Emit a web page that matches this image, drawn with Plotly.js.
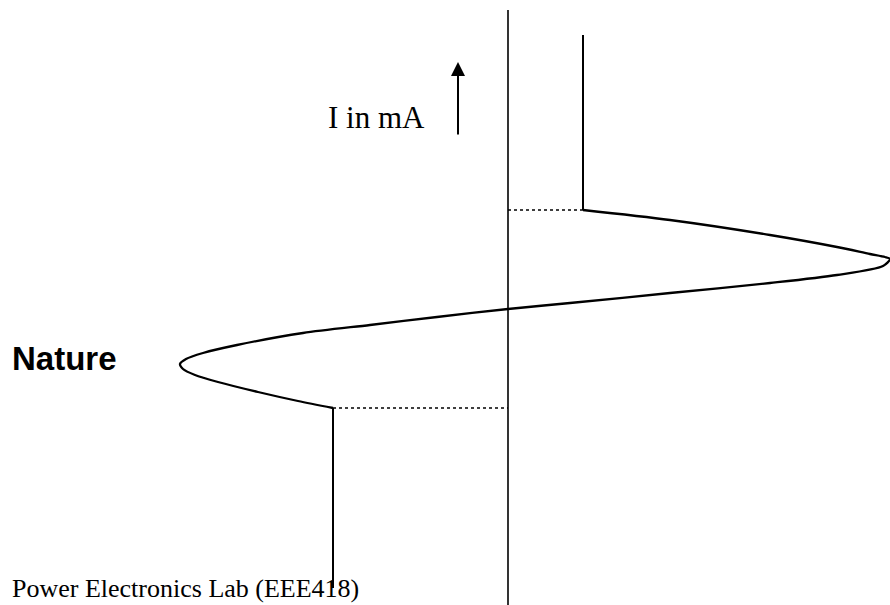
<!DOCTYPE html>
<html>
<head>
<meta charset="utf-8">
<script src="https://cdn.plot.ly/plotly-3.0.1.min.js"></script>
<style>html,body{margin:0;padding:0;background:#fff;}#chart{width:890px;height:605px;}</style>
</head>
<body>
<div id="chart"></div>
<script>
// DIAC-like V-I characteristic (voltage, current in arbitrary units)
const curveV = [75, 162, 262, 329, 362, 377, 382, 375, 329, 262, 162, 62, 0, -71, -138, -205, -271, -305, -322, -328, -325, -313, -290, -250, -210, -175];
const curveI = [100, 90, 75, 63, 56, 53, 51, 44, 35, 27, 17, 7, 1, -7, -15, -23, -35, -43, -49, -54, -59, -65, -72, -82, -91, -98];
const upperV = [75, 75];
const upperI = [275, 100];
const lowerV = [-175, -175];
const lowerI = [-98, -278];
const axisV = [0, 0];
const axisI = [300, -300];
const dotUpperV = [0, 75];
const dotUpperI = [100, 100];
const dotLowerV = [-175, 0];
const dotLowerI = [-98, -98];
const axisLabel = "I in mA";
const sideLabel = "Nature";
const footer = "Power Electronics Lab (EEE418)";

const solid = {color: '#000', width: 2};
const traces = [
  {x: axisV, y: axisI, mode: 'lines', line: {color: '#000', width: 1.6}, cliponaxis: false},
  {x: upperV, y: upperI, mode: 'lines', line: solid, cliponaxis: false},
  {x: lowerV, y: lowerI, mode: 'lines', line: solid, cliponaxis: false},
  {x: curveV, y: curveI, mode: 'lines', line: {color: '#000', width: 2.3, shape: 'spline', smoothing: 0.8}, cliponaxis: false},
  {x: dotUpperV, y: dotUpperI, mode: 'lines', line: {color: '#000', width: 1.5, dash: 'dot'}},
  {x: dotLowerV, y: dotLowerI, mode: 'lines', line: {color: '#000', width: 1.5, dash: 'dot'}}
];

const layout = {
  width: 890, height: 605,
  margin: {l: 0, r: 0, t: 0, b: 0},
  paper_bgcolor: '#fff', plot_bgcolor: '#fff',
  showlegend: false,
  hovermode: false,
  xaxis: {range: [-508, 382], visible: false, showgrid: false, zeroline: false, fixedrange: true},
  yaxis: {range: [-295, 310], visible: false, showgrid: false, zeroline: false, fixedrange: true},
  annotations: [
    {x: -50, y: 248, ax: -50, ay: 174, xref: 'x', yref: 'y', axref: 'x', ayref: 'y',
     showarrow: true, arrowhead: 2, arrowsize: 1.4, arrowwidth: 2, arrowcolor: '#000', text: ''},
    {x: -182, y: 193, xref: 'x', yref: 'y', xanchor: 'left', yanchor: 'middle', showarrow: false,
     text: axisLabel, font: {family: 'Liberation Serif, Times New Roman, serif', size: 31, color: '#000'}},
    {x: -498, y: -48, xref: 'x', yref: 'y', xanchor: 'left', yanchor: 'middle', showarrow: false,
     text: '<b>' + sideLabel + '</b>', font: {family: 'Liberation Sans, Arial, sans-serif', size: 33, color: '#000'}},
    {x: 10 / 890, y: 0, xref: 'paper', yref: 'paper', xanchor: 'left', yanchor: 'bottom', showarrow: false,
     text: footer, font: {family: 'Liberation Serif, Times New Roman, serif', size: 26, color: '#000'}}
  ]
};

Plotly.newPlot('chart', traces, layout, {displayModeBar: false, staticPlot: true});
</script>
</body>
</html>
